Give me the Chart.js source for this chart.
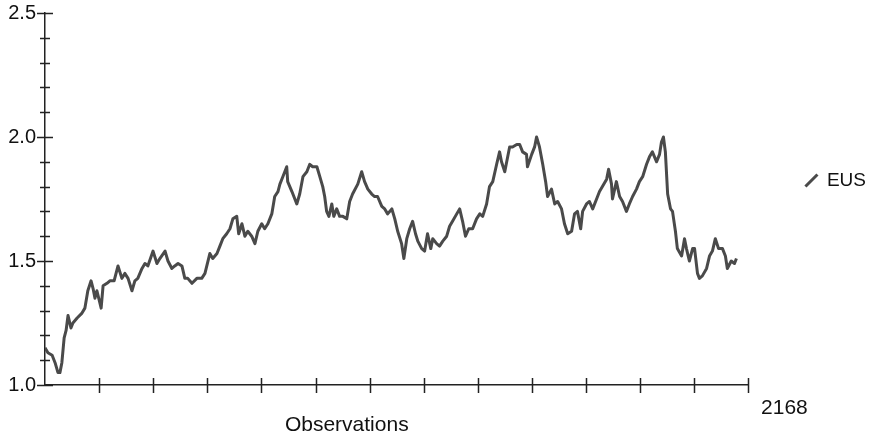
<!DOCTYPE html>
<html>
<head>
<meta charset="utf-8">
<script src="https://cdn.jsdelivr.net/npm/chart.js@4/dist/chart.umd.min.js"></script>
<style>
html,body{margin:0;padding:0;background:#fff;}
#wrap{width:878px;height:436px;}
</style>
</head>
<body>
<div id="wrap"><canvas id="c" width="878" height="436"></canvas></div>
<script>
// ---- data ----
const observations = [0,9,22,31,40,46,52,59,65,71,80,86,99,114,123,132,142,148,154,160,173,179,191,200,213,225,237,246,256,268,277,286,299,308,317,333,345,
354,370,379,391,400,410,422,431,440,453,468,483,493,508,517,530,539,548,560,570,579,591,597,607,616,625,637,647,656,668,677,687,699,708,718,
724,733,745,748,761,770,776,785,795,807,816,825,838,847,856,862,868,875,884,890,899,908,918,930,939,948,964,976,985,995,1007,1016,1025,1038,1047,1056,1069,1078,1087,1099,
1106,1115,1124,1133,1142,1149,1161,1170,1179,1189,1195,1207,1216,1226,1238,1247,1256,1269,1278,1287,1296,1306,1318,1330,1340,1349,1361,1370,1380,1392,1401,1407,1417,1423,1432,1441,1454,
1463,1472,1484,1487,1500,1509,1515,1524,1534,1543,1549,1561,1571,1580,1592,1601,1611,1623,1632,1641,1651,1657,1669,1678,1688,1700,1709,1718,1731,1737,1746,1749,1761,1771,1780,1792,1801,1811,1823,
1832,1842,1854,1863,1872,1885,1894,1900,1906,1912,1919,1928,1934,1943,1949,1962,1971,1977,1986,1996,2002,2011,2017,2026,2039,2048,2057,2066,2076,2088,2097,2103,2115,2125,2131];

const eusValues = [1.15,1.13,1.12,1.09,1.05,1.05,1.09,1.19,1.22,1.28,1.23,1.25,1.27,1.29,1.31,1.38,1.42,1.39,1.35,1.38,1.31,1.40,1.41,1.42,1.42,1.48,1.43,1.45,1.43,1.38,1.42,1.43,1.47,1.49,1.48,1.54,1.49,
1.51,1.54,1.50,1.47,1.48,1.49,1.48,1.43,1.43,1.41,1.43,1.43,1.45,1.53,1.51,1.53,1.56,1.59,1.61,1.63,1.67,1.68,1.61,1.65,1.60,1.62,1.60,1.57,1.62,1.65,1.63,1.65,1.69,1.76,1.78,
1.81,1.84,1.88,1.82,1.78,1.75,1.73,1.77,1.84,1.86,1.89,1.88,1.88,1.84,1.80,1.76,1.70,1.68,1.73,1.68,1.71,1.68,1.68,1.67,1.74,1.77,1.81,1.86,1.82,1.79,1.77,1.76,1.76,1.72,1.71,1.69,1.71,1.67,1.62,1.57,
1.51,1.59,1.63,1.66,1.61,1.58,1.55,1.54,1.61,1.55,1.59,1.57,1.56,1.58,1.60,1.64,1.66,1.69,1.71,1.66,1.60,1.63,1.63,1.67,1.69,1.68,1.73,1.80,1.82,1.89,1.94,1.90,1.86,1.90,1.96,1.96,1.97,
1.97,1.94,1.93,1.88,1.93,1.96,2.00,1.96,1.89,1.82,1.76,1.79,1.73,1.74,1.71,1.65,1.61,1.62,1.69,1.70,1.63,1.70,1.73,1.74,1.71,1.75,1.78,1.80,1.83,1.87,1.81,1.75,1.82,1.76,1.74,1.70,1.73,1.76,1.79,
1.82,1.84,1.89,1.92,1.94,1.90,1.93,1.98,2.00,1.94,1.77,1.71,1.70,1.62,1.55,1.52,1.59,1.55,1.50,1.55,1.55,1.45,1.43,1.44,1.47,1.52,1.54,1.59,1.55,1.55,1.52,1.47,1.50,1.49,1.51];

const seriesName = 'EUS';
const xTitle = 'Observations';
const xMax = 2168;
const xTickIntervals = 13;
const yTickValues = [1.0, 1.5, 2.0, 2.5];
const yTickLabels = ['1.0', '1.5', '2.0', '2.5'];
const yMinorStep = 0.1;

// ---- chart ----
const FONT = '"Liberation Sans", Arial, Helvetica, sans-serif';
Chart.defaults.font.family = FONT;
Chart.defaults.color = '#111';

const axisMarks = {
  id: 'axisMarks',
  afterDraw(chart) {
    const {ctx, chartArea} = chart;
    const xs = chart.scales.x, ys = chart.scales.y;
    ctx.save();
    ctx.strokeStyle = '#222';
    ctx.lineWidth = 1.5;
    ctx.beginPath();
    xs.ticks.forEach((t, i) => {
      if (i === 0) return;
      const px = Math.round(xs.getPixelForValue(t.value)) + 0.5;
      ctx.moveTo(px, chartArea.bottom - 7);
      ctx.lineTo(px, chartArea.bottom + 8);
    });
    const yMin = yTickValues[0], yMax = yTickValues[yTickValues.length - 1];
    const nMinor = Math.round((yMax - yMin) / yMinorStep);
    for (let i = 0; i <= nMinor; i++) {
      const v = yMin + i * yMinorStep;
      const py = Math.round(ys.getPixelForValue(v)) + 0.5;
      const len = (i % 5 === 0) ? 8 : 5;
      ctx.moveTo(chartArea.left - len, py);
      ctx.lineTo(chartArea.left + len, py);
    }
    ctx.stroke();
    ctx.fillStyle = '#111';
    ctx.font = '21px ' + FONT;
    ctx.textAlign = 'center';
    ctx.textBaseline = 'middle';
    ctx.fillText(xTitle, chartArea.left + (chartArea.right - chartArea.left) * 0.429, 425);
    ctx.restore();
  }
};

new Chart(document.getElementById('c'), {
  type: 'line',
  data: {
    datasets: [{
      label: seriesName,
      data: observations.map((o, i) => ({x: o, y: eusValues[i]})),
      borderColor: '#4a4a4a',
      backgroundColor: '#4a4a4a',
      borderWidth: 3,
      pointRadius: 0,
      pointStyle: 'line',
      pointRotation: -45,
      tension: 0,
      borderJoinStyle: 'round',
      fill: false
    }]
  },
  options: {
    responsive: false,
    animation: false,
    devicePixelRatio: 1,
    layout: {padding: {top: 13, left: 0, right: 2, bottom: 0}},
    plugins: {
      tooltip: {enabled: false},
      legend: {
        position: 'right',
        align: 'start',
        fullSize: false,
        title: {display: true, text: '', padding: {top: 138, bottom: 0}, font: {size: 10, lineHeight: 1}},
        labels: {
          usePointStyle: true,
          boxWidth: 12,
          boxHeight: 12,
          padding: 10,
          color: '#111',
          font: {size: 19}
        }
      }
    },
    scales: {
      x: {
        type: 'linear',
        position: 'bottom',
        min: 0,
        max: xMax,
        afterBuildTicks: s => {
          s.ticks = Array.from({length: xTickIntervals + 1}, (_, i) => ({value: i * xMax / xTickIntervals}));
        },
        grid: {display: false, drawTicks: false},
        border: {display: true, color: '#222', width: 1.5},
        ticks: {
          autoSkip: false,
          maxRotation: 0,
          padding: 11,
          labelOffset: 36,
          font: {size: 21},
          color: '#111',
          callback: v => Math.abs(v - xMax) < 1e-6 ? String(xMax) : ''
        },
        afterFit: s => { s.height = 51; s.paddingLeft = 0; s.paddingRight = 0; }
      },
      y: {
        type: 'linear',
        position: 'left',
        min: yTickValues[0],
        max: yTickValues[yTickValues.length - 1],
        afterBuildTicks: s => { s.ticks = yTickValues.map(v => ({value: v})); },
        grid: {display: false, drawTicks: false},
        border: {display: true, color: '#222', width: 1.5},
        ticks: {
          padding: 9,
          font: {size: 20},
          color: '#111',
          callback: (v, i) => yTickLabels[i]
        },
        afterFit: s => { s.width = 45; s.paddingTop = 0; s.paddingBottom = 0; }
      },
      spacer: {
        type: 'linear',
        position: 'right',
        display: true,
        grid: {display: false, drawTicks: false},
        border: {display: false},
        ticks: {display: false},
        afterFit: s => { s.width = 47; s.paddingTop = 0; s.paddingBottom = 0; }
      }
    }
  },
  plugins: [axisMarks]
});
</script>
</body>
</html>
